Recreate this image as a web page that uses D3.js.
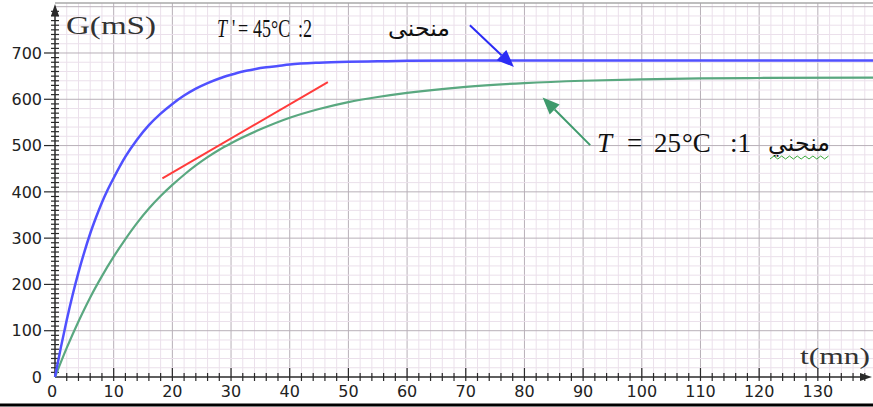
<!DOCTYPE html>
<html>
<head>
<meta charset="utf-8">
<script src="https://cdn.jsdelivr.net/npm/d3@7"></script>
<style>
  body { margin: 0; background: #fff; }
  svg { display: block; }
</style>
</head>
<body>
<div id="chart"></div>
<script>
// curve 2 : T' = 45°C (blue)
const timeHot = [0, 1, 2, 3, 4, 5, 6, 7, 8, 9, 10, 12, 14, 16, 18, 20, 22, 24, 26, 28, 30, 32, 34, 36, 38, 40, 45, 50, 55, 60, 70, 80, 100, 120, 140];
const condHot = [0, 64, 123, 177, 226, 270, 310, 345, 377, 405, 430, 476, 513, 544, 569, 590, 608, 623, 635, 645, 653, 660, 665, 669, 672, 675, 679, 681, 682, 683, 684, 684, 684, 684, 684];

// curve 1 : T = 25°C (green)
const timeCold = [0, 2, 4, 6, 8, 10, 12, 14, 16, 18, 20, 22, 24, 26, 28, 30, 35, 40, 45, 50, 55, 60, 70, 80, 90, 100, 110, 120, 140];
const condCold = [0, 63, 120, 172, 218, 260, 298, 333, 364, 391, 415, 437, 457, 475, 491, 505, 535, 560, 579, 594, 605, 614, 627, 635, 640, 643, 645, 646, 647];

// red tangent segment
const tangentT = [18.3, 46.5];
const tangentG = [429, 637];

const xTickLabels = [0, 10, 20, 30, 40, 50, 60, 70, 80, 90, 100, 110, 120, 130];
const yTickLabels = [0, 100, 200, 300, 400, 500, 600, 700];

const width = 873;
const height = 407;

const x = d3.scaleLinear().domain([0, 139.4]).range([55, 873]);
const y = d3.scaleLinear().domain([0, 808]).range([377, 3]);

const svg = d3.select("#chart")
  .append("svg")
  .attr("width", width)
  .attr("height", height);

// grid
const grid = svg.append("g");
grid.selectAll("line.vx")
  .data(d3.range(2, 140, 2))
  .enter()
  .append("line")
  .attr("x1", d => x(d)).attr("x2", d => x(d))
  .attr("y1", y(808)).attr("y2", y(0))
  .attr("stroke", d => d % 10 === 0 ? "#b8b0b8" : "#ebe0eb")
  .attr("stroke-width", 1);

grid.selectAll("line.hy")
  .data(d3.range(20, 820, 20))
  .enter()
  .append("line")
  .attr("x1", x(0)).attr("x2", width)
  .attr("y1", d => y(d)).attr("y2", d => y(d))
  .attr("stroke", d => d % 100 === 0 ? "#b8b0b8" : "#ebe0eb")
  .attr("stroke-width", 1);

grid.append("line")
  .attr("x1", x(0)).attr("x2", width)
  .attr("y1", y(808)).attr("y2", y(808))
  .attr("stroke", "#a8a8a8").attr("stroke-width", 1.5);

// axes
const axisColor = "#2a2a2a";
svg.append("line")
  .attr("x1", x(0)).attr("x2", 866)
  .attr("y1", y(0)).attr("y2", y(0))
  .attr("stroke", axisColor).attr("stroke-width", 1.5);
svg.append("line")
  .attr("x1", x(0)).attr("x2", x(0))
  .attr("y1", y(0)).attr("y2", 12)
  .attr("stroke", axisColor).attr("stroke-width", 1.5);

svg.append("path")
  .attr("d", `M${x(0)},4 L${x(0) - 4},16 L${x(0) + 4},16 Z`)
  .attr("fill", axisColor);
svg.append("path")
  .attr("d", `M872,${y(0)} L860,${y(0) - 4} L860,${y(0) + 4} Z`)
  .attr("fill", axisColor);

// x ticks
svg.append("g")
  .selectAll("line")
  .data(d3.range(2, 140, 2))
  .enter()
  .append("line")
  .attr("x1", d => x(d)).attr("x2", d => x(d))
  .attr("y1", d => d % 10 === 0 ? y(0) - 9 : y(0) - 4)
  .attr("y2", y(0) + 4)
  .attr("stroke", axisColor).attr("stroke-width", 1.2);

// y ticks
svg.append("g")
  .selectAll("line")
  .data(d3.range(10, 800, 10))
  .enter()
  .append("line")
  .attr("x1", d => d % 100 === 0 ? x(0) - 11 : x(0) - 4)
  .attr("x2", x(0) + 4)
  .attr("y1", d => y(d)).attr("y2", d => y(d))
  .attr("stroke", axisColor).attr("stroke-width", 1.2);

// tick labels
svg.append("g")
  .selectAll("text")
  .data(xTickLabels)
  .enter()
  .append("text")
  .attr("x", d => d === 0 ? x(d) - 3 : x(d))
  .attr("y", 397)
  .attr("text-anchor", "middle")
  .attr("font-family", "DejaVu Sans")
  .attr("font-size", "16px")
  .attr("fill", "#222")
  .text(d => d);

svg.append("g")
  .selectAll("text")
  .data(yTickLabels)
  .enter()
  .append("text")
  .attr("x", 42)
  .attr("y", d => y(d))
  .attr("dy", "0.36em")
  .attr("text-anchor", "end")
  .attr("font-family", "DejaVu Sans")
  .attr("font-size", "16px")
  .attr("fill", "#222")
  .text(d => d);

// axis titles
svg.append("text")
  .attr("x", 66).attr("y", 34)
  .attr("font-family", "Liberation Serif")
  .attr("font-size", "25px")
  .attr("textLength", 90)
  .attr("lengthAdjust", "spacingAndGlyphs")
  .attr("fill", "#333")
  .text("G(mS)");

svg.append("text")
  .attr("x", 800).attr("y", 364)
  .attr("font-family", "Liberation Serif")
  .attr("font-size", "24px")
  .attr("textLength", 70)
  .attr("lengthAdjust", "spacingAndGlyphs")
  .attr("fill", "#333")
  .text("t(mn)");

// curves
const line = d3.line().curve(d3.curveMonotoneX);

svg.append("path")
  .attr("d", line(timeCold.map((t, i) => [x(t), y(condCold[i])])))
  .attr("fill", "none")
  .attr("stroke", "#5aa880")
  .attr("stroke-width", 2.2);

svg.append("path")
  .attr("d", line(timeHot.map((t, i) => [x(t), y(condHot[i])])))
  .attr("fill", "none")
  .attr("stroke", "#5050ff")
  .attr("stroke-width", 2.5);

svg.append("line")
  .attr("x1", x(tangentT[0])).attr("y1", y(tangentG[0]))
  .attr("x2", x(tangentT[1])).attr("y2", y(tangentG[1]))
  .attr("stroke", "#ff3b3b")
  .attr("stroke-width", 2);

// annotation arrows
function arrow(from, to, color) {
  const x1 = x(from[0]), y1 = y(from[1]), x2 = x(to[0]), y2 = y(to[1]);
  const a = Math.atan2(y2 - y1, x2 - x1);
  const len = 17, half = 7;
  const bx = x2 - len * Math.cos(a), by = y2 - len * Math.sin(a);
  svg.append("line")
    .attr("x1", x1).attr("y1", y1).attr("x2", bx).attr("y2", by)
    .attr("stroke", color).attr("stroke-width", 2);
  svg.append("path")
    .attr("d", `M${x2},${y2} L${bx + half * Math.sin(a)},${by - half * Math.cos(a)} L${bx - half * Math.sin(a)},${by + half * Math.cos(a)} Z`)
    .attr("fill", color);
}
arrow([70.7, 760], [78.2, 670], "#2b2bf5");
arrow([91.2, 501], [83.1, 604], "#3e9a6c");

// curve labels: one text each, tspans placed at [text, x, italic]
function label(pieces, baseline, size, sx) {
  const t = svg.append("text")
    .attr("transform", `translate(0,${baseline}) scale(${sx},1)`)
    .attr("font-family", "Liberation Serif")
    .attr("font-size", size + "px")
    .attr("fill", "#111");
  pieces.forEach(p => {
    t.append("tspan")
      .attr("x", p[1] / sx).attr("y", 0)
      .attr("font-style", p[2] ? "italic" : "normal")
      .text(p[0]);
  });
}
label([["T", 217, true], ["'", 232, false], ["=", 238, false], ["45°C", 253, false], [":2", 298, false]], 37, 25, 0.72);
label([["T", 597, true], ["=", 627, false], ["25", 654, false], ["°C", 682, false], [":1", 730, false]], 152, 27, 1);

svg.append("text")
  .attr("x", 388).attr("y", 36)
  .attr("font-family", "DejaVu Sans")
  .attr("font-size", "23px")
  .attr("fill", "#111")
  .attr("textLength", 62)
  .attr("lengthAdjust", "spacingAndGlyphs")
  .text("منحنى");

svg.append("text")
  .attr("x", 768).attr("y", 151)
  .attr("font-family", "DejaVu Sans")
  .attr("font-size", "24px")
  .attr("fill", "#111")
  .attr("textLength", 62)
  .attr("lengthAdjust", "spacingAndGlyphs")
  .text("منحني");

// spellcheck squiggle under the arabic word
const squiggle = d3.range(0, 16).map(i => [770 + i * 3.9, i % 2 === 0 ? 159 : 156]);
svg.append("path")
  .attr("d", d3.line()(squiggle))
  .attr("fill", "none")
  .attr("stroke", "#3aa83a")
  .attr("stroke-width", 1);

// bottom border
svg.append("line")
  .attr("x1", 0).attr("x2", width)
  .attr("y1", 405).attr("y2", 405)
  .attr("stroke", "#000").attr("stroke-width", 3);
</script>
</body>
</html>
